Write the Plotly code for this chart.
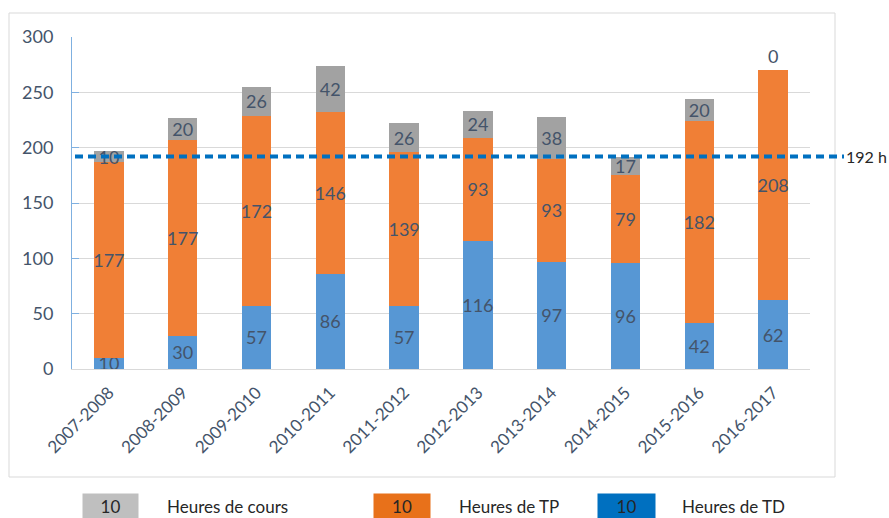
import plotly.graph_objects as go

categories = ["2007-2008", "2008-2009", "2009-2010", "2010-2011", "2011-2012",
              "2012-2013", "2013-2014", "2014-2015", "2015-2016", "2016-2017"]
td_hours = [10, 30, 57, 86, 57, 116, 97, 96, 42, 62]
tp_hours = [177, 177, 172, 146, 139, 93, 93, 79, 182, 208]
cours_hours = [10, 20, 26, 42, 26, 24, 38, 17, 20, 0]
reference_hours = 192
reference_label = "192 h"
y_ticks = [0, 50, 100, 150, 200, 250, 300]

legend_items = [("Heures de cours", "#bfbfbf", 83, 138, 165),
                ("Heures de TP", "#e8711a", 374, 430, 457),
                ("Heures de TD", "#0070c0", 598, 655, 680)]

W, H = 889, 518
L, R = 72, 810
T, B = 37, 369
pw, ph = R - L, B - T

def px(x):
    return (x - L) / pw

def py(y):
    return (B - y) / ph

FONT = "Lato"
LABEL_COLOR = "#44546a"

def bar(values, name, color):
    return go.Bar(
        x=categories, y=values, name=name,
        marker=dict(color=color, line=dict(width=0)),
        text=[str(v) for v in values],
        textposition=["inside" if v > 0 else "outside" for v in values],
        insidetextanchor="middle", textangle=0,
        textfont=dict(color=LABEL_COLOR, size=18, family=FONT),
        cliponaxis=False, constraintext="none",
    )

fig = go.Figure()
fig.add_trace(bar(td_hours, "Heures de TD", "#5797d4"))
fig.add_trace(bar(tp_hours, "Heures de TP", "#f07f36"))
fig.add_trace(bar(cours_hours, "Heures de cours", "#a2a2a2"))

shapes = [
    dict(type="rect", xref="paper", yref="paper",
         x0=px(9), x1=px(835), y0=py(477), y1=py(13),
         line=dict(color="#d9d9d9", width=1), fillcolor="rgba(0,0,0,0)", layer="below"),
    dict(type="line", xref="paper", yref="y",
         x0=px(75), x1=px(844), y0=reference_hours, y1=reference_hours,
         line=dict(color="#0070c0", width=4, dash="8px,5px"), layer="above"),
]

annotations = [
    dict(xref="paper", yref="y", x=px(845), y=reference_hours, text=reference_label,
         showarrow=False, xanchor="left", yanchor="middle", borderpad=0,
         font=dict(size=16, color="#262626", family=FONT)),
]

for label, color, x0, x1, tx in legend_items:
    annotations.append(dict(
        xref="paper", yref="paper", x=px((x0 + x1) / 2), y=py(506),
        text="10", showarrow=False, xanchor="center", yanchor="middle",
        width=x1 - x0, height=24, bgcolor=color, borderpad=0,
        font=dict(size=17, color="#262626", family=FONT)))
    annotations.append(dict(
        xref="paper", yref="paper", x=px(tx), y=py(506),
        text=label, showarrow=False, xanchor="left", yanchor="middle",
        font=dict(size=17, color="#262626", family=FONT)))

fig.update_layout(
    width=W, height=H,
    margin=dict(l=L, r=W - R, t=T, b=H - B),
    barmode="stack", bargap=0.6,
    showlegend=False,
    plot_bgcolor="white", paper_bgcolor="white",
    font=dict(family=FONT, color=LABEL_COLOR),
    shapes=shapes, annotations=annotations,
    xaxis=dict(
        tickangle=-45, tickfont=dict(size=17, color=LABEL_COLOR, family=FONT),
        showline=True, linecolor="#d9d9d9", linewidth=1,
        showgrid=False, ticks="", ticklabelstandoff=6,
    ),
    yaxis=dict(
        range=[0, 300], tickvals=y_ticks,
        tickfont=dict(size=18, color=LABEL_COLOR, family=FONT),
        showgrid=True, gridcolor="#d9d9d9", gridwidth=1,
        showline=True, linecolor="#7fb0e0", linewidth=1,
        ticks="inside", ticklen=7, tickcolor="#7fb0e0",
        zeroline=False, ticklabelstandoff=14,
    ),
)

fig.write_html(
    "out.html",
    config={"displayModeBar": False},
    post_script="document.body.style.margin='0';document.body.style.overflow='hidden';",
)
